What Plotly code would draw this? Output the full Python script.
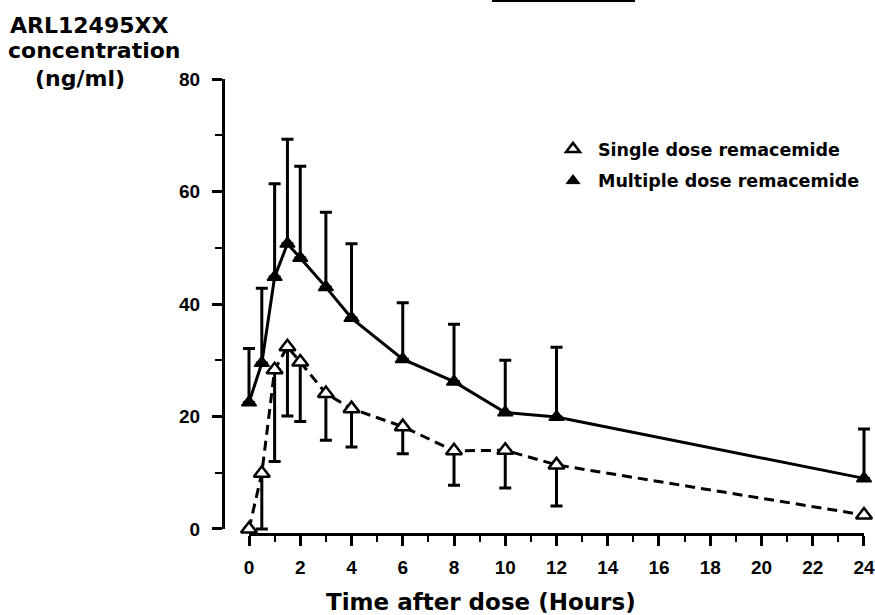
import plotly.graph_objects as go

# ---- data ----
hours = [0, 0.5, 1, 1.5, 2, 3, 4, 6, 8, 10, 12, 24]
multiple_dose = [22.5, 29.5, 44.8, 50.7, 48.2, 43.0, 37.5, 30.2, 26.2, 20.7, 19.9, 9.0]
multiple_sd = [9.6, 13.3, 16.6, 18.6, 16.3, 13.3, 13.2, 10.0, 10.2, 9.3, 12.4, 8.8]
single_dose = [0.0, 9.9, 28.3, 32.4, 29.7, 24.1, 21.4, 18.2, 13.9, 14.0, 11.4, 2.5]
single_sd = [0.0, 9.9, 16.3, 12.3, 10.6, 8.3, 6.8, 4.8, 6.1, 6.7, 7.3, 0.0]
x_ticks = list(range(0, 25, 2))
y_ticks = [0, 20, 40, 60, 80]

W, H = 875, 615
FONT = "DejaVu Sans"
TICK_FONT = "Liberation Sans, Arial"

# pixel layout of the frame
X0_PX, X24_PX = 249, 864      # pixel of x=0 and x=24
Y0_PX, Y80_PX = 529, 79       # pixel of y=0 and y=80
XSCALE = (X24_PX - X0_PX) / 24.0
YSCALE = (Y0_PX - Y80_PX) / 80.0


def px_x(p):
    return p / W


def px_y(p):
    return 1 - p / H


# data area is larger than the drawn frame so error bars / markers are not clipped
DATA_L, DATA_R, DATA_T, DATA_B = 215, 872, 55, 548
data_xrange = [(DATA_L - X0_PX) / XSCALE, (DATA_R - X0_PX) / XSCALE]
data_yrange = [(Y0_PX - DATA_B) / YSCALE, (Y0_PX - DATA_T) / YSCALE]

fig = go.Figure()

fig.add_trace(go.Scatter(
    x=hours, y=multiple_dose, mode="lines+markers", showlegend=False,
    line=dict(color="black", width=3),
    marker=dict(symbol="triangle-up", size=13, color="black",
                line=dict(color="black", width=1.5)),
    error_y=dict(type="data", symmetric=False, array=multiple_sd,
                 arrayminus=[0] * len(hours), color="black", thickness=3, width=6),
    cliponaxis=False,
))

fig.add_trace(go.Scatter(
    x=hours, y=single_dose, mode="lines+markers", showlegend=False,
    line=dict(color="black", width=3, dash="10px,6px"),
    marker=dict(symbol="triangle-up", size=14, color="white",
                line=dict(color="black", width=2.5)),
    error_y=dict(type="data", symmetric=False, array=[0] * len(hours),
                 arrayminus=single_sd, color="black", thickness=3, width=6),
    cliponaxis=False,
))

# legend entries (markers only)
fig.add_trace(go.Scatter(
    x=[None], y=[None], mode="markers", name="Single dose remacemide",
    legendgroup="a",
    marker=dict(symbol="triangle-up", size=12, color="white",
                line=dict(color="black", width=2.5)),
))
fig.add_trace(go.Scatter(
    x=[None], y=[None], mode="markers", name="Multiple dose remacemide",
    legendgroup="b",
    marker=dict(symbol="triangle-up", size=12, color="black",
                line=dict(color="black", width=1)),
))

# dummy trace registering the display (frame) axes
fig.add_trace(go.Scatter(x=[None], y=[None], xaxis="x2", yaxis="y2",
                         showlegend=False, hoverinfo="skip"))

hidden = dict(showgrid=False, zeroline=False, showline=False, showticklabels=False,
              ticks="", automargin=False, fixedrange=True)

tickfont = dict(family=TICK_FONT, size=19, color="black", weight="bold")

fig.update_layout(
    width=W, height=H,
    margin=dict(l=0, r=0, t=0, b=0),
    paper_bgcolor="white", plot_bgcolor="rgba(0,0,0,0)",
    font=dict(family=FONT, color="black", weight="bold"),
    xaxis=dict(domain=[px_x(DATA_L), px_x(DATA_R)], range=data_xrange, anchor="y", **hidden),
    yaxis=dict(domain=[px_y(DATA_B), px_y(DATA_T)], range=data_yrange, anchor="x", **hidden),
    xaxis2=dict(
        domain=[px_x(X0_PX), px_x(X24_PX)], range=[-0.002, 24.002],
        anchor="free", position=px_y(534),
        showgrid=False, zeroline=False,
        showline=True, linecolor="black", linewidth=3,
        tickmode="array", tickvals=x_ticks, ticktext=[str(v) for v in x_ticks],
        ticks="outside", ticklen=10, tickwidth=2.5, tickcolor="black",
        minor=dict(tickmode="array", tickvals=list(range(1, 24, 2)),
                   ticks="outside", ticklen=6, tickwidth=2, tickcolor="black"),
        tickfont=tickfont, ticklabelstandoff=5, ticklabeloverflow="allow",
        automargin=False, fixedrange=True,
    ),
    yaxis2=dict(
        domain=[px_y(Y0_PX), px_y(Y80_PX)], range=[-0.01, 80.01],
        anchor="free", position=px_x(223),
        showgrid=False, zeroline=False,
        showline=True, linecolor="black", linewidth=3,
        tickmode="array", tickvals=y_ticks, ticktext=[str(v) for v in y_ticks],
        ticks="outside", ticklen=10, tickwidth=2.5, tickcolor="black",
        minor=dict(tickmode="array", tickvals=[10, 30, 50, 70],
                   ticks="outside", ticklen=7, tickwidth=2, tickcolor="black"),
        tickfont=tickfont, ticklabelstandoff=8, ticklabeloverflow="allow",
        automargin=False, fixedrange=True,
    ),
    legend=dict(
        x=px_x(548), y=px_y(131), xanchor="left", yanchor="top",
        bgcolor="rgba(0,0,0,0)", borderwidth=0,
        traceorder="grouped", tracegroupgap=6,
        font=dict(family=FONT, size=17.5, color="black", weight="bold"),
        itemwidth=40,
    ),
)

title_font = dict(family=FONT, size=22, color="black", weight="bold")
for txt, cx, cy in [("ARL12495XX", 89, 25), ("concentration", 94, 51), ("(ng/ml)", 80, 78)]:
    fig.add_annotation(text=txt, xref="paper", yref="paper", x=px_x(cx), y=px_y(cy),
                       xanchor="center", yanchor="middle", showarrow=False, font=title_font)

fig.add_annotation(text="Time after dose (Hours)", xref="paper", yref="paper",
                   x=px_x(481), y=px_y(602), xanchor="center", yanchor="middle",
                   showarrow=False, font=dict(family=FONT, size=23, color="black", weight="bold"))

# underline remnant of a cropped heading at the top edge
fig.add_shape(type="line", xref="paper", yref="paper",
              x0=px_x(492), x1=px_x(635), y0=px_y(1), y1=px_y(1),
              line=dict(color="black", width=2))

fig.write_html("out.html")
